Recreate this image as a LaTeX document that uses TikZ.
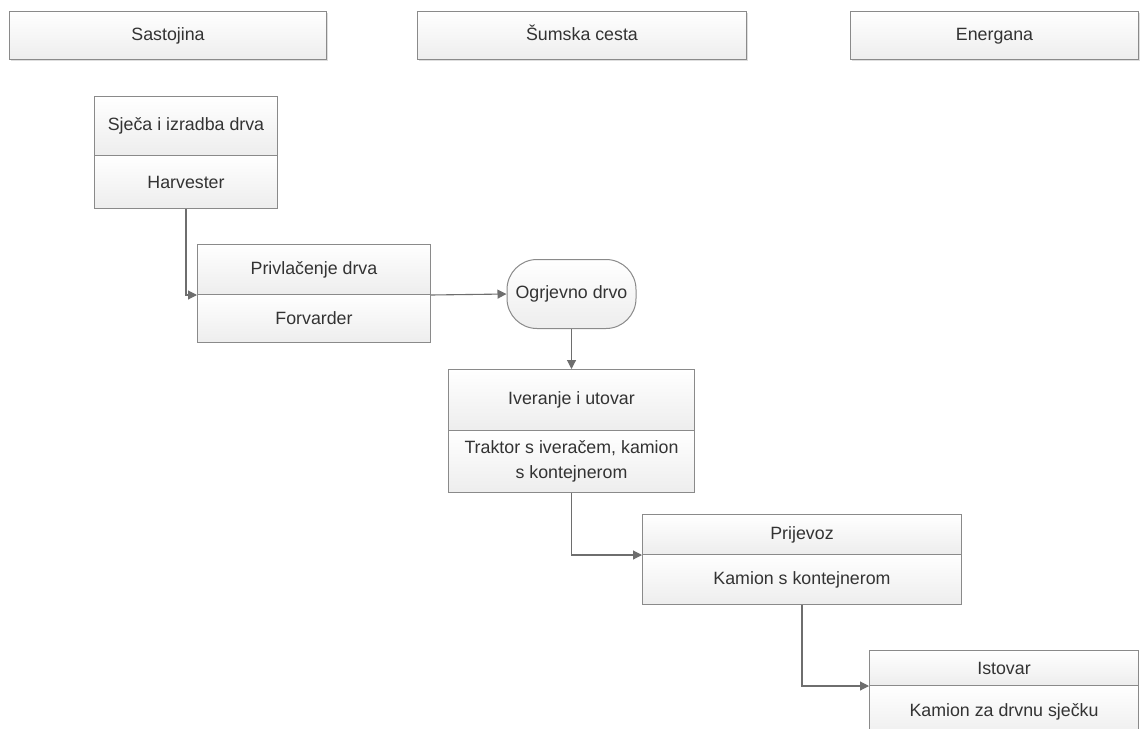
\documentclass[tikz,border=0pt]{standalone}
\usepackage{fontspec}
\setmainfont{Liberation Sans}
\usetikzlibrary{arrows.meta,shadows}
\definecolor{bordergray}{HTML}{8A8A8A}
\definecolor{linegray}{HTML}{6E6E6E}
\definecolor{txt}{HTML}{333333}
\tikzset{
  part/.style={draw=bordergray, line width=1pt, top color=white, bottom color=black!7,
    text=txt, inner sep=0pt, anchor=north west, font=\fontsize{17.8}{24.5}\selectfont, align=center},
  hdr/.style={part, text height=12.5pt, text depth=3.5pt, drop shadow={shadow xshift=1.5pt, shadow yshift=-1.5pt, fill=black!25}},
  conn/.style={draw=linegray, line width=1.1pt, -{Triangle[length=9pt,width=9pt]}},
}
\newcommand{\partbox}[6]{% name, x, y, w, h, text
  \node[part, minimum width=#4pt, minimum height=#5pt] (#1) at (#2,#3) {#6};}
\begin{document}
\begin{tikzpicture}[x=1pt,y=-1pt]
\clip (0,0) rectangle (1148,728);
\fill[white] (0,0) rectangle (1148,728);
% headers
\node[hdr, minimum width=317pt, minimum height=48pt] (h1) at (9,11) {Sastojina};
\node[hdr, minimum width=329pt, minimum height=48pt] (h2) at (417,11) {Šumska cesta};
\node[hdr, minimum width=288pt, minimum height=48pt] (h3) at (850,11) {Energana};
% box 1
\partbox{s1t}{94}{96}{183}{59}{Sječa i izradba drva}
\partbox{s1b}{94}{155}{183}{53}{Harvester}
% box 2
\partbox{p2t}{197}{244}{233}{50}{Privlačenje drva}
\partbox{p2b}{197}{294}{233}{48}{Forvarder}
% Ogrjevno drvo
\node[part, anchor=center, rounded corners=30pt, minimum width=129pt, minimum height=69pt] (og) at (571.5,294) {Ogrjevno drvo};
% box 3
\partbox{ivt}{448}{369}{246}{61}{Iveranje i utovar}
\partbox{ivb}{448}{430}{246}{62}{Traktor s iveračem, kamion\\s kontejnerom}
% box 4
\partbox{prt}{642}{514}{319}{40}{Prijevoz}
\partbox{prb}{642}{554}{319}{50}{Kamion s kontejnerom}
% box 5
\partbox{ist}{869}{650}{269}{35}{Istovar}
\partbox{isb}{869}{685}{269}{53}{Kamion za drvnu sječku}
% connectors
\draw[conn] (s1b.south) |- (p2t.south west);
\draw[conn] (p2t.south east) -- (og.west);
\draw[conn] (og.south) -- (ivt.north);
\draw[conn] (ivb.south) |- (prt.south west);
\draw[conn] (prb.south) |- (ist.south west);
\end{tikzpicture}
\end{document}
